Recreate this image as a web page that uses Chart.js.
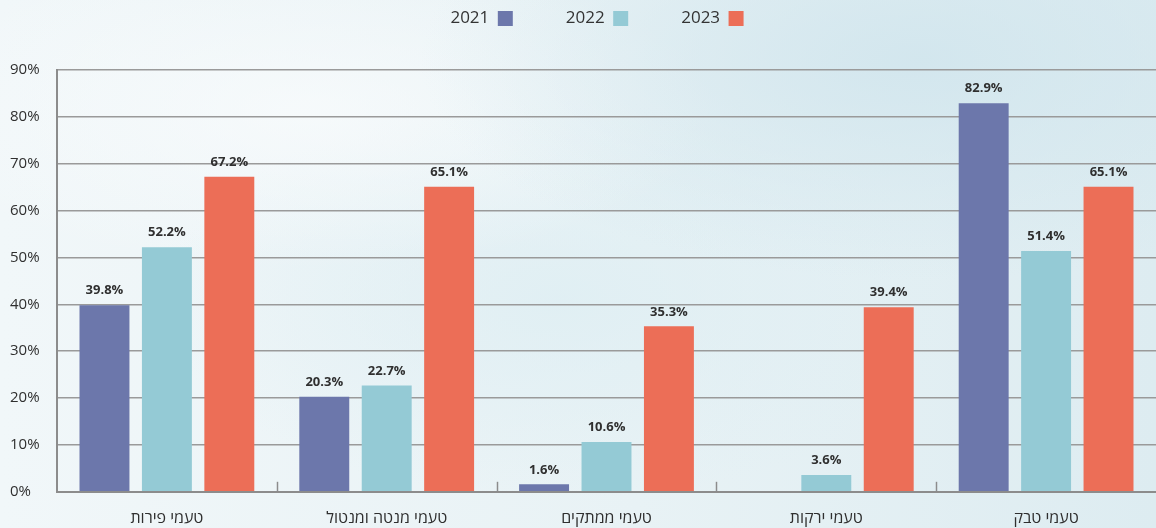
<!DOCTYPE html>
<html>
<head>
<meta charset="utf-8">
<script src="https://cdn.jsdelivr.net/npm/chart.js@4/dist/chart.umd.min.js"></script>
<style>
  html, body { margin: 0; padding: 0; }
  body {
    width: 1156px;
    height: 528px;
    overflow: hidden;
    background:
      radial-gradient(ellipse 500px 220px at 920px 60px, rgba(208, 229, 237, 0.85), rgba(208, 229, 237, 0) 100%),
      radial-gradient(ellipse 420px 160px at 300px 110px, rgba(250, 252, 253, 0.7), rgba(250, 252, 253, 0) 100%),
      radial-gradient(ellipse 400px 200px at 560px 300px, rgba(222, 238, 243, 0.8), rgba(222, 238, 243, 0) 100%),
      linear-gradient(90deg, #f1f7f9 0%, #e8f2f5 55%, #ddecf1 100%);
  }
  #wrap { position: relative; width: 1156px; height: 528px; }
</style>
</head>
<body>
<div id="wrap"><canvas id="chart"></canvas></div>
<script>
// categories (Hebrew, as in the source)
const categories = ['טעמי פירות', 'טעמי מנטה ומנטול', 'טעמי ממתקים', 'טעמי ירקות', 'טעמי טבק'];

// series values, percent
const values2021 = [39.8, 20.3, 1.6, null, 82.9];
const values2022 = [52.2, 22.7, 10.6, 3.6, 51.4];
const values2023 = [67.2, 65.1, 35.3, 39.4, 65.1];

const seriesLabels = ['2021', '2022', '2023'];
const seriesColors = ['#6c77ab', '#94cad5', '#ec6e57'];

const FONT = '"Open Sans", "DejaVu Sans", sans-serif';
const LEGEND_GAP = 53;

// value labels above each bar
const barLabels = {
  id: 'barLabels',
  afterDatasetsDraw(chart) {
    const ctx = chart.ctx;
    ctx.save();
    ctx.font = 'bold 13px ' + FONT;
    ctx.fillStyle = '#2f2f2f';
    ctx.textAlign = 'center';
    ctx.textBaseline = 'bottom';
    chart.data.datasets.forEach((ds, i) => {
      const meta = chart.getDatasetMeta(i);
      meta.data.forEach((bar, j) => {
        const v = ds.data[j];
        if (v == null) return;
        ctx.fillText(v.toFixed(1) + '%', bar.x, bar.y - 8);
      });
    });
    ctx.restore();
  }
};

// short upward tick marks on the x axis between categories
const categoryTicks = {
  id: 'categoryTicks',
  afterDraw(chart) {
    const x = chart.scales.x;
    const ctx = chart.ctx;
    const bottom = chart.chartArea.bottom;
    ctx.save();
    ctx.strokeStyle = '#8c8c8c';
    ctx.lineWidth = 1.5;
    for (let i = 1; i < categories.length; i++) {
      const px = Math.round((x.getPixelForValue(i - 1) + x.getPixelForValue(i)) / 2) + 0.5;
      ctx.beginPath();
      ctx.moveTo(px, bottom - 10);
      ctx.lineTo(px, bottom);
      ctx.stroke();
    }
    ctx.restore();
  }
};

// keep the legend short so the plot starts right under it,
// and nudge it a little right like in the original
const legendTweak = {
  id: 'legendTweak',
  beforeInit(chart) {
    const fit = chart.legend.fit;
    chart.legend.fit = function () {
      fit.call(this);
      this.height = LEGEND_GAP + 60;
    };
  },
  afterLayout(chart) {
    chart.legend.left += 14;
    chart.legend.right += 14;
  }
};

const datasets = [values2021, values2022, values2023].map((data, i) => ({
  label: seriesLabels[i],
  data,
  backgroundColor: seriesColors[i],
  borderWidth: 0,
  categoryPercentage: 0.852,
  barPercentage: 0.8
}));

new Chart(document.getElementById('chart'), {
  type: 'bar',
  data: { labels: categories, datasets },
  plugins: [barLabels, categoryTicks, legendTweak],
  options: {
    responsive: true,
    maintainAspectRatio: false,
    animation: false,
    layout: { padding: { top: 10 - LEGEND_GAP, left: 10, right: 0, bottom: -17 } },
    plugins: {
      tooltip: { enabled: false },
      legend: {
        position: 'top',
        rtl: true,
        reverse: true,
        labels: {
          boxWidth: 15,
          boxHeight: 15,
          padding: LEGEND_GAP,
          color: '#333',
          font: { family: FONT, size: 17 }
        }
      }
    },
    scales: {
      x: {
        grid: { display: false, drawTicks: false },
        border: { display: true, color: '#8c8c8c', width: 2 },
        ticks: {
          color: '#2f2f2f',
          padding: 17,
          font: { family: FONT, size: 16 }
        }
      },
      y: {
        min: 0,
        max: 90,
        afterFit(scale) { scale.width = 47; },
        ticks: {
          stepSize: 10,
          crossAlign: 'far',
          color: '#2f2f2f',
          font: { family: FONT, size: 15 },
          callback: v => v + '%'
        },
        grid: { color: '#9a9a9a', lineWidth: 1.5, drawTicks: false },
        border: { display: true, color: '#8c8c8c', width: 2 }
      }
    }
  }
});
</script>
</body>
</html>
